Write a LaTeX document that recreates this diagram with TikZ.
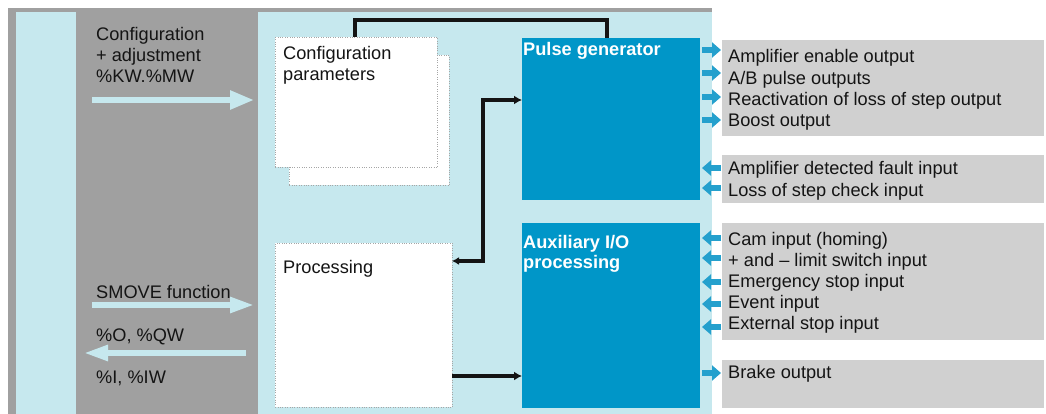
\documentclass[tikz,border=0pt]{standalone}
\usepackage{fontspec}
\setmainfont{Liberation Sans}
\usetikzlibrary{arrows.meta}
\definecolor{bggray}{RGB}{160,160,160}
\definecolor{panelcyan}{RGB}{198,232,238}
\definecolor{blockblue}{RGB}{0,150,200}
\definecolor{arrowblue}{RGB}{36,160,205}
\definecolor{boxgray}{RGB}{208,208,208}
\definecolor{ink}{RGB}{20,20,20}
\begin{document}
\begin{tikzpicture}[x=1pt,y=-1pt,
  font=\fontsize{18.2}{21.3}\selectfont,
  whitebox/.style={draw=gray!70, dotted, fill=white, anchor=north west, inner sep=0pt},
  blockbox/.style={fill=blockblue, anchor=north west, inner sep=0pt},
  graybox/.style={fill=boxgray, anchor=north west, inner sep=0pt},
  txt/.style={anchor=base west, inner sep=0pt, text=ink},
  wtxt/.style={anchor=base west, inner sep=0pt, text=white, font=\fontsize{18.2}{21.3}\selectfont\bfseries},
  link/.style={draw=ink, line width=3.4pt},
  smallout/.style={draw=arrowblue, line width=5.5pt, -{Triangle[length=9pt,width=15pt]}},
  bigarrow/.style={draw=panelcyan, line width=5.5pt, -{Triangle[length=24pt,width=18pt]}}
]
\useasboundingbox (0,0) rectangle (1046,414);
% backgrounds
\fill[bggray] (8,8) rectangle (712,414);
\fill[panelcyan] (16,12) rectangle (76,414);
\fill[panelcyan] (258,12) rectangle (712,414);

% configuration parameters (stacked)
\node[whitebox, minimum width=160, minimum height=130] (cfgback) at (289,55) {};
\node[whitebox, minimum width=162, minimum height=130] (cfg) at (275,37) {};
\node[txt] (cfgt1) at (283,60) {Configuration};
\node[txt] (cfgt2) at (283,81) {parameters};

% processing
\node[whitebox, minimum width=177, minimum height=164] (proc) at (275,243) {};
\node[txt] (proct) at (283,273) {Processing};

% blue blocks
\node[blockbox, minimum width=178, minimum height=162] (pulse) at (522,38) {};
\node[wtxt] (pulset) at (523,56) {Pulse generator};
\node[blockbox, minimum width=178, minimum height=185] (aux) at (522,223) {};
\node[wtxt] (auxt1) at (523,248) {Auxiliary I/O};
\node[wtxt] (auxt2) at (523,268) {processing};

% connectors
\coordinate (cfgtop) at (355,37);
\coordinate (pulsetop) at (607,38);
\draw[link] (cfgtop) -- (355,20) -- (607,20) -- (pulsetop);
\coordinate (procA) at (452,261);
\coordinate (pulseIn) at (522,100);
\draw[link, {Latex[length=7pt,width=8pt]}-{Latex[length=8pt,width=9pt]}] (procA) -- (483,261) -- (483,100) -- (pulseIn);
\coordinate (procB) at (452,376);
\coordinate (auxIn) at (522,376);
\draw[link, -{Latex[length=8pt,width=9pt]}] (procB) -- (auxIn);

% left labels and big arrows
\node[txt] (l1) at (96,41) {Configuration};
\node[txt] (l2) at (96,62) {+ adjustment};
\node[txt] (l3) at (96,83) {\%KW.\%MW};
\coordinate (a1s) at (92,100); \coordinate (a1e) at (254,100);
\draw[bigarrow] (a1s) -- (a1e);
\node[txt] (l4) at (96,298) {SMOVE function};
\coordinate (a2s) at (92,305); \coordinate (a2e) at (254,305);
\draw[bigarrow, -{Triangle[length=24pt,width=15pt]}] (a2s) -- (a2e);
\node[txt] (l5) at (96,341) {\%O, \%QW};
\coordinate (a3s) at (246,353); \coordinate (a3e) at (84,353);
\draw[bigarrow, -{Triangle[length=24pt,width=15pt]}] (a3s) -- (a3e);
\node[txt] (l6) at (96,383) {\%I, \%IW};

% right gray boxes
\node[graybox, minimum width=322, minimum height=96] (g1) at (722,40) {};
\node[graybox, minimum width=322, minimum height=48] (g2) at (722,155) {};
\node[graybox, minimum width=322, minimum height=117] (g3) at (722,223) {};
\node[graybox, minimum width=322, minimum height=48] (g4) at (722,360) {};

\node[txt] (r1) at (728,63) {Amplifier enable output};
\node[txt] (r2) at (728,84.5) {A/B pulse outputs};
\node[txt] (r3) at (728,106) {Reactivation of loss of step output};
\node[txt] (r4) at (728,127) {Boost output};
\node[txt] (r5) at (728,175) {Amplifier detected fault input};
\node[txt] (r6) at (728,196.5) {Loss of step check input};
\node[txt] (r7) at (728,245) {Cam input (homing)};
\node[txt] (r8) at (728,266) {+ and -- limit switch input};
\node[txt] (r9) at (728,287) {Emergency stop input};
\node[txt] (r10) at (728,308) {Event input};
\node[txt] (r11) at (728,329) {External stop input};
\node[txt] (r12) at (728,378) {Brake output};

% small arrows
\foreach \y in {50,73,97,120,373} {
  \draw[smallout] (702,\y) -- (721,\y);
}
\foreach \y in {168,188,238,258,282,304,327} {
  \draw[smallout] (721,\y) -- (702,\y);
}
\end{tikzpicture}
\end{document}
